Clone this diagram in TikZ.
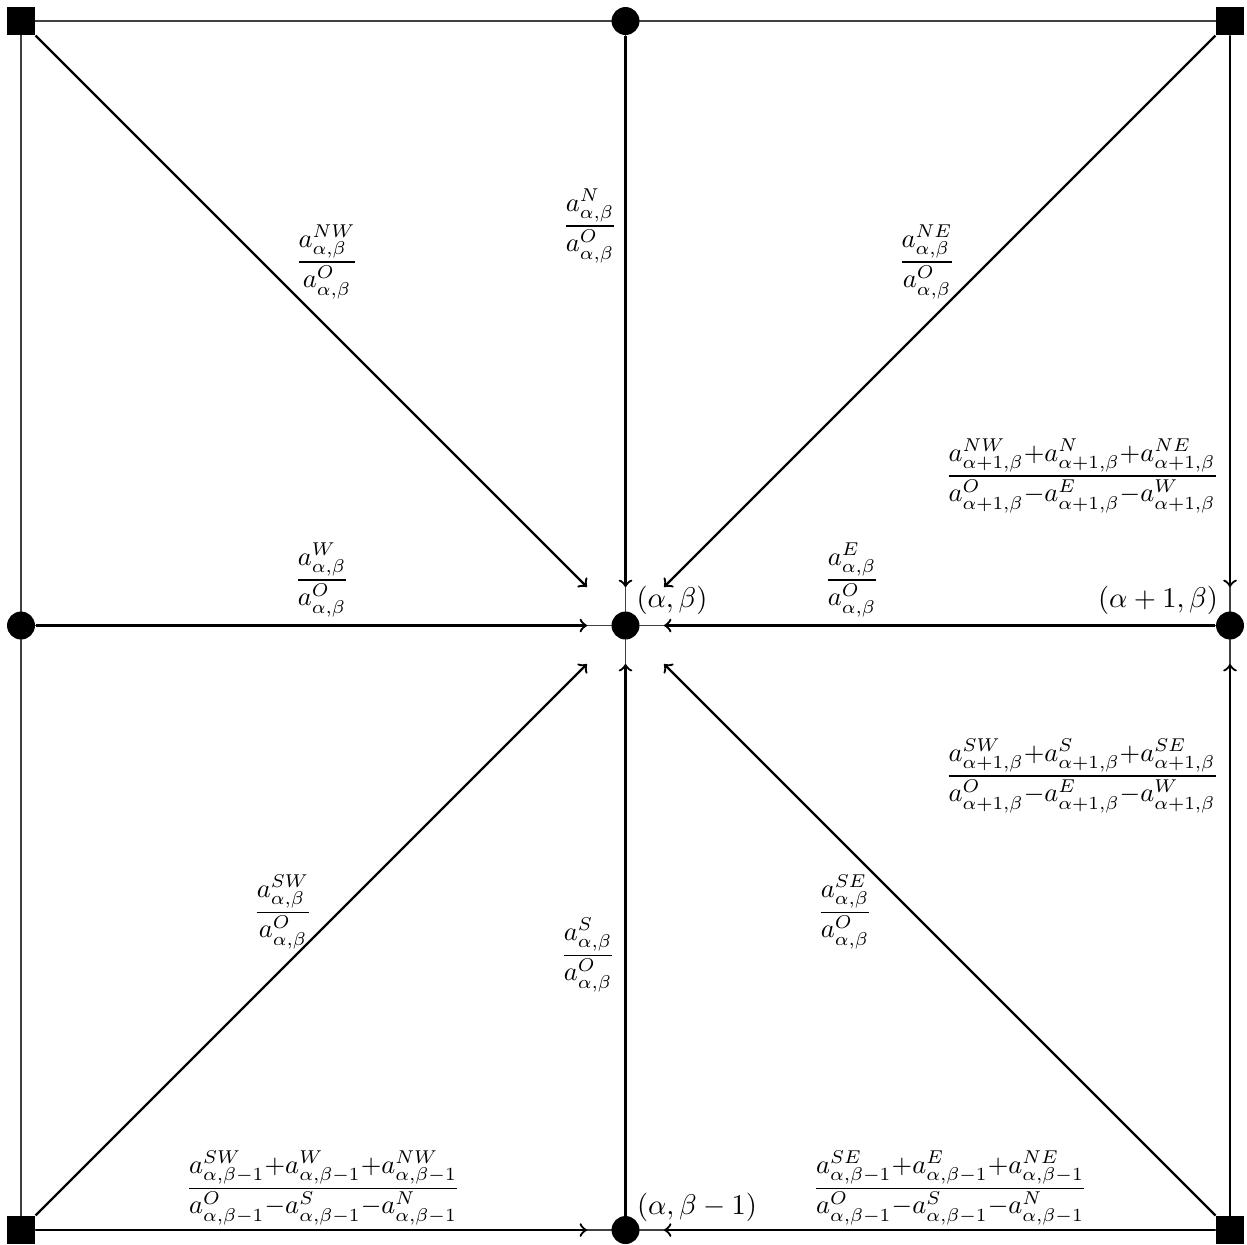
\documentclass[tikz,border=0pt]{standalone}
\usetikzlibrary{arrows}
\newcommand{\fr}[2]{\scalebox{0.93}{$\medmuskip=0mu\displaystyle\frac{#1}{#2}$}}
\begin{document}
\begin{tikzpicture}[x=0.01233cm,y=-0.01233cm,
  dot/.style={circle,fill=black,inner sep=0pt,minimum size=9.8pt},
  sq/.style={rectangle,fill=black,inner sep=0pt,minimum size=9.8pt},
  gridline/.style={line width=0.4pt,black!75},
  arr/.style={->,line width=0.8pt,shorten >=8.4pt},
  darr/.style={->,line width=0.8pt,shorten >=14pt},
  frac/.style={inner sep=0pt},
  lab/.style={inner sep=0pt}]
\useasboundingbox (0,0) rectangle (1247,1244);
% positions
\coordinate (pNW) at (21,21);
\coordinate (pN) at (625.5,21);
\coordinate (pNE) at (1230,21);
\coordinate (pW) at (21,625.5);
\coordinate (pO) at (625.5,625.5);
\coordinate (pE) at (1230,625.5);
\coordinate (pSW) at (21,1230);
\coordinate (pS) at (625.5,1230);
\coordinate (pSE) at (1230,1230);
% thin grid
\draw[gridline] (pNW) rectangle (pSE);
\draw[gridline] (pN) -- (pS);
\draw[gridline] (pW) -- (pE);
% markers
\node[sq] (NW) at (pNW) {};
\node[dot] (N) at (pN) {};
\node[sq] (NE) at (pNE) {};
\node[dot] (W) at (pW) {};
\node[dot] (O) at (pO) {};
\node[dot] (E) at (pE) {};
\node[sq] (SW) at (pSW) {};
\node[dot] (S) at (pS) {};
\node[sq] (SE) at (pSE) {};
% arrows to center
\draw[darr] (NW) -- (O);
\draw[arr] (N) -- (O);
\draw[darr] (NE) -- (O);
\draw[arr] (W) -- (O);
\draw[arr] (E) -- (O);
\draw[darr] (SW) -- (O);
\draw[arr] (S) -- (O);
\draw[darr] (SE) -- (O);
% arrows along the border
\draw[arr] (NE) -- (E);
\draw[arr] (SE) -- (E);
\draw[arr] (SW) -- (S);
\draw[arr] (SE) -- (S);
% point labels
\node[lab] (lO) at (672,600) {$(\alpha,\beta)$};
\node[lab] (lE) at (1158,600) {$(\alpha+1,\beta)$};
\node[lab] (lS) at (697,1207) {$(\alpha,\beta-1)$};
% coefficient labels
\node[frac] (fNW) at (327,262) {\fr{a^{NW}_{\alpha,\beta}}{a^{O}_{\alpha,\beta}}};
\node[frac] (fN) at (590,226) {\fr{a^{N}_{\alpha,\beta}}{a^{O}_{\alpha,\beta}}};
\node[frac] (fNE) at (927,262) {\fr{a^{NE}_{\alpha,\beta}}{a^{O}_{\alpha,\beta}}};
\node[frac] (fW) at (322,580) {\fr{a^{W}_{\alpha,\beta}}{a^{O}_{\alpha,\beta}}};
\node[frac] (fE) at (852,580) {\fr{a^{E}_{\alpha,\beta}}{a^{O}_{\alpha,\beta}}};
\node[frac] (fSW) at (283,912) {\fr{a^{SW}_{\alpha,\beta}}{a^{O}_{\alpha,\beta}}};
\node[frac] (fS) at (588,955) {\fr{a^{S}_{\alpha,\beta}}{a^{O}_{\alpha,\beta}}};
\node[frac] (fSE) at (845,912) {\fr{a^{SE}_{\alpha,\beta}}{a^{O}_{\alpha,\beta}}};
\node[frac] (fEN) at (1082,476) {\fr{a^{NW}_{\alpha+1,\beta}+a^{N}_{\alpha+1,\beta}+a^{NE}_{\alpha+1,\beta}}{a^{O}_{\alpha+1,\beta}-a^{E}_{\alpha+1,\beta}-a^{W}_{\alpha+1,\beta}}};
\node[frac] (fES) at (1082,776) {\fr{a^{SW}_{\alpha+1,\beta}+a^{S}_{\alpha+1,\beta}+a^{SE}_{\alpha+1,\beta}}{a^{O}_{\alpha+1,\beta}-a^{E}_{\alpha+1,\beta}-a^{W}_{\alpha+1,\beta}}};
\node[frac] (fSWb) at (323,1188) {\fr{a^{SW}_{\alpha,\beta-1}+a^{W}_{\alpha,\beta-1}+a^{NW}_{\alpha,\beta-1}}{a^{O}_{\alpha,\beta-1}-a^{S}_{\alpha,\beta-1}-a^{N}_{\alpha,\beta-1}}};
\node[frac] (fSEb) at (950,1188) {\fr{a^{SE}_{\alpha,\beta-1}+a^{E}_{\alpha,\beta-1}+a^{NE}_{\alpha,\beta-1}}{a^{O}_{\alpha,\beta-1}-a^{S}_{\alpha,\beta-1}-a^{N}_{\alpha,\beta-1}}};
\end{tikzpicture}
\end{document}
